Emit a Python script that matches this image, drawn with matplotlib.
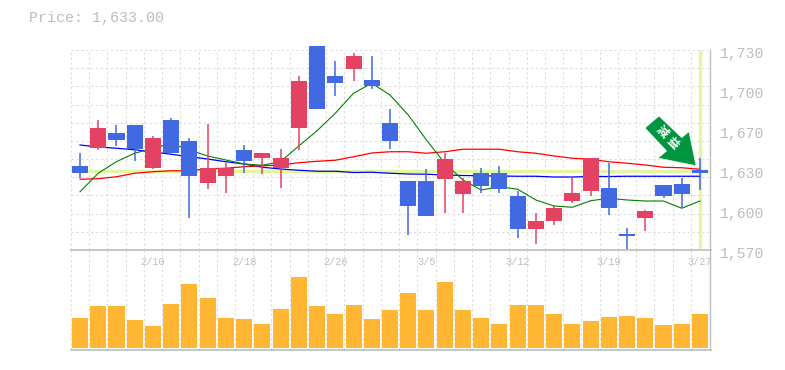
import numpy as np
import matplotlib
matplotlib.use('Agg')
import matplotlib.pyplot as plt
from matplotlib.patches import Polygon
from matplotlib.transforms import IdentityTransform

W, H = 785, 370

# prices, one value per session
highs = [1648, 1674, 1670, 1670, 1661, 1676, 1660, 1671, 1640, 1654, 1648, 1651,
         1709, 1733, 1721, 1728, 1725, 1683, 1625, 1635, 1648, 1628, 1636, 1637,
         1617, 1600, 1606, 1628, 1644, 1640, 1588, 1602, 1622, 1628, 1644]
lows = [1628, 1650, 1653, 1641, 1635, 1648, 1596, 1619, 1616, 1632, 1631, 1620,
        1650, 1683, 1693, 1705, 1699, 1651, 1582, 1597, 1600, 1600, 1616, 1616,
        1580, 1575, 1590, 1608, 1613, 1598, 1569.5, 1585, 1612, 1604, 1618]
body_top = [1637, 1668, 1664, 1670, 1660, 1674, 1657, 1636, 1636, 1650, 1648, 1644,
            1705, 1733, 1709, 1725, 1706, 1672, 1625, 1625, 1643, 1625, 1632, 1632,
            1613, 1593, 1604, 1616, 1644, 1620, 1583, 1601, 1622, 1623, 1634]
body_bot = [1632, 1652, 1658, 1651, 1636, 1648, 1629, 1624, 1629, 1641, 1644, 1636,
            1668, 1683, 1704, 1715, 1701, 1657, 1605, 1597, 1627, 1615, 1621, 1619,
            1587, 1587, 1593, 1609, 1617, 1604, 1581, 1596, 1613, 1615, 1632]
# 1 = blue candle, 0 = red candle
is_blue = [1, 0, 1, 1, 0, 1, 1, 0, 0, 1, 0, 0,
           0, 1, 1, 0, 1, 1, 1, 1, 0, 0, 1, 1,
           1, 0, 0, 0, 0, 1, 1, 0, 1, 1, 1]

ma_short = [1616.6, 1631.4, 1640.7, 1647.4, 1651.4, 1655.4, 1650, 1645.2, 1642, 1638.8, 1637.8, 1640.7,
            1653.2, 1665.4, 1679.4, 1695.4, 1703.4, 1694, 1678, 1658, 1639.4, 1626, 1618, 1620.6,
            1618.6, 1610, 1605.2, 1604.2, 1609.4, 1611.4, 1610, 1609.2, 1609.2, 1603.4, 1609.2]
ma_mid = [1626.6, 1627, 1628.6, 1631.4, 1632.6, 1633.4, 1633.4, 1635, 1635.4, 1636.6, 1637.4, 1638,
          1639.8, 1641, 1641.8, 1644.6, 1647.6, 1648.6, 1648.6, 1647.4, 1648.6, 1650.6, 1650.6, 1650.6,
          1648.6, 1647.4, 1645.2, 1643.4, 1642.6, 1640.6, 1639.4, 1638, 1636.2, 1635.8, 1634.6]
ma_long = [1654, 1652.4, 1651.4, 1650.2, 1648.4, 1646.6, 1644.6, 1642.8, 1640.6, 1638.8, 1636.2, 1634.8,
           1633.8, 1633, 1633, 1632, 1632.2, 1631.4, 1630.8, 1630.6, 1630, 1629.6, 1629.4, 1629.2,
           1629, 1629, 1628.4, 1628.4, 1628.8, 1628.8, 1629, 1629, 1629, 1629, 1629]
volumes = [30, 42, 42, 28, 22, 44, 64, 50, 30, 29, 24, 39,
           71, 42, 34, 43, 29, 38, 55, 38, 66, 38, 30, 24,
           43, 43, 34, 24, 27, 31, 32, 30, 23, 24, 34]

last_price = 1633
date_labels = {4: '2/10', 9: '2/18', 14: '2/26', 19: '3/5', 24: '3/12', 29: '3/19', 34: '3/27'}
price_ticks = [1570, 1602, 1634, 1666, 1698, 1730]
price_labels = ['1,570', '1,600', '1,630', '1,670', '1,700', '1,730']

GRAY = '#bdbdbd'
GRID = '#dedede'
BLUE = '#4169e1'
RED = '#e34262'
BAND = '#e2f5a0'
ORANGE = '#ffb733'
MONO = 'Liberation Mono'


def axes_rect(left, top, right, bottom):
    return [left / W, 1 - bottom / H, (right - left) / W, (bottom - top) / H]


fig = plt.figure(figsize=(W / 100, H / 100), dpi=100, facecolor='white')
ax = fig.add_axes(axes_rect(70.9, 50, 709.1, 250))
ax2 = fig.add_axes(axes_rect(70.9, 250, 709.1, 350))

x = np.arange(len(highs))
edges = np.arange(len(highs) + 1) - 0.5

for a in (ax, ax2):
    a.set_xlim(-0.5, len(highs) - 0.5)
    a.set_xticks(edges)
    a.tick_params(length=0, labelbottom=False, labelleft=False)
    a.grid(axis='x', color=GRID, linestyle=(0, (2.2, 2.2)), linewidth=0.8)
    a.set_axisbelow(True)
    for side in ['top', 'left', 'right', 'bottom']:
        a.spines[side].set_visible(False)

ax.set_ylim(1570, 1730)
ax.set_yticks(np.linspace(1570, 1730, 12))
ax.grid(axis='y', color=GRID, linestyle=(0, (2.2, 2.2)), linewidth=0.8)

# last price cross hair band
ax.axhline(last_price, color=BAND, linewidth=2.4, zorder=1)
ax.plot([34, 34], [1570.5, 1730], color=BAND, linewidth=2.4, zorder=1, solid_capstyle='butt')

# moving averages run behind the candles
ax.plot(x, ma_long, color='#0000ff', linewidth=0.9, zorder=2)
ax.plot(x, ma_mid, color='#ff0000', linewidth=0.9, zorder=2)
ax.plot(x, ma_short, color='#008000', linewidth=0.8, zorder=2)

for i in x:
    c = BLUE if is_blue[i] else RED
    ax.plot([i, i], [lows[i], highs[i]], color=c, linewidth=1.1, zorder=3,
            clip_on=False, solid_capstyle='butt')
    ax.bar(i, body_top[i] - body_bot[i], bottom=body_bot[i], width=0.88, color=c,
           zorder=3, clip_on=False)

ax2.bar(x, volumes, width=0.88, color=ORANGE, zorder=3)
ax2.set_ylim(-2, 98)
ax2.set_yticks([])

# solid frame lines
for yy in (250, 350):
    fig.add_artist(plt.Line2D([70.5 / W, 711 / W], [1 - yy / H, 1 - yy / H], color=GRAY, linewidth=1.2))
fig.add_artist(plt.Line2D([710.3 / W, 710.3 / W], [1 - 50 / H, 1 - 350 / H], color=GRAY, linewidth=1))

# price labels sit a little under their level
for val, lab in zip(price_ticks, price_labels):
    yy = ax.transData.transform((0, val))[1]
    fig.text(720 / W, (yy - 4) / H, lab, family=MONO, fontsize=10.6, color=GRAY,
             ha='left', va='center')

for i, lab in date_labels.items():
    ax2.annotate(lab, xy=(i, 1), xycoords=ax2.get_xaxis_transform(), xytext=(0, -12),
                 textcoords='offset pixels', family=MONO, fontsize=7.4, color=GRAY,
                 ha='center', va='center', zorder=5)

fig.text(29 / W, 1 - 18 / H, 'Price: 1,633.00', family=MONO, fontsize=10.8, color=GRAY,
         ha='left', va='center')

# green arrow marker, drawn in picture pixels
arrow_px = [(645, 128), (659, 116), (681.7, 137.7), (689, 131.7), (696, 165.7), (658, 158), (666.7, 151)]
arrow = Polygon([(px, H - py) for px, py in arrow_px], closed=True, facecolor='#009640',
                edgecolor='white', linewidth=0.4, transform=IdentityTransform(), zorder=6)
fig.add_artist(arrow)
fig.text(661.7 / W, 1 - 132 / H, '減', family='Noto Sans CJK JP', fontsize=8.5, color='white',
         rotation=-45, ha='center', va='center', fontweight='bold', zorder=7)
fig.text(673 / W, 1 - 143 / H, '益', family='Noto Sans CJK JP', fontsize=8.5, color='white',
         rotation=-45, ha='center', va='center', fontweight='bold', zorder=7)

fig.savefig('out.png', dpi=100, facecolor='white')
